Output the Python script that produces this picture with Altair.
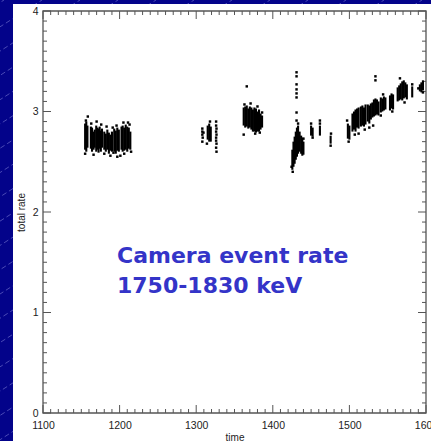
import altair as alt
import pandas as pd

# ---- observation streaks: time, lowest and highest total rate in each pass ----
strip_time = [
    1155, 1156.5, 1158, 1162.5, 1164, 1166, 1167.5, 1169.5, 1171, 1172.5, 1174, 1175.5, 1177,
    1180, 1182, 1184, 1186, 1188, 1190, 1193, 1195, 1197, 1199,
    1202.5, 1204, 1206, 1208, 1210, 1212, 1214,
    1315, 1317, 1319,
    1362, 1364, 1366, 1368, 1370, 1372, 1374, 1376, 1378, 1380, 1382, 1384, 1386,
    1425.5, 1427, 1428.5, 1430, 1431.5, 1433, 1435, 1437, 1438.5, 1440,
    1450, 1452, 1461.5, 1475.5,
    1498, 1500, 1504, 1506, 1508, 1510, 1512, 1515, 1517, 1519, 1521,
    1524, 1526, 1528, 1530, 1532, 1534, 1536, 1538, 1541, 1543, 1545, 1547,
    1553, 1555, 1557, 1563, 1565, 1567, 1569, 1571, 1573, 1575, 1582, 1592, 1594, 1596,
]
strip_lo = [
    2.62, 2.60, 2.64, 2.63, 2.60, 2.62, 2.64, 2.60, 2.62, 2.59, 2.63, 2.60, 2.64,
    2.62, 2.60, 2.62, 2.58, 2.61, 2.60, 2.60, 2.58, 2.61, 2.60,
    2.62, 2.60, 2.61, 2.62, 2.60, 2.63, 2.62,
    2.72, 2.70, 2.70,
    2.86, 2.84, 2.85, 2.83, 2.84, 2.82, 2.80, 2.80, 2.79, 2.80, 2.80, 2.82, 2.84,
    2.42, 2.45, 2.48, 2.52, 2.55, 2.58, 2.60, 2.58, 2.56, 2.57,
    2.76, 2.75, 2.76, 2.68,
    2.73, 2.72, 2.80, 2.82, 2.80, 2.84, 2.83, 2.85, 2.86, 2.85, 2.87,
    2.90, 2.88, 2.92, 2.94, 2.95, 2.96, 2.97, 2.96, 2.99, 3.00, 3.01, 3.02,
    3.01, 3.03, 3.02, 3.10, 3.11, 3.12, 3.11, 3.13, 3.14, 3.12, 3.14, 3.20, 3.19, 3.21,
]
strip_hi = [
    2.88, 2.90, 2.86, 2.85, 2.84, 2.80, 2.82, 2.86, 2.84, 2.83, 2.85, 2.81, 2.83,
    2.80, 2.78, 2.82, 2.79, 2.77, 2.80, 2.83, 2.81, 2.84, 2.82,
    2.85, 2.86, 2.84, 2.87, 2.85, 2.84, 2.80,
    2.86, 2.88, 2.85,
    3.04, 3.05, 3.06, 3.03, 3.05, 3.04, 3.02, 3.04, 3.03, 3.00, 3.02, 2.98, 2.96,
    2.62, 2.70, 2.75, 2.80, 2.84, 2.86, 2.80, 2.76, 2.74, 2.70,
    2.86, 2.84, 2.86, 2.76,
    2.88, 2.86, 2.98, 3.00, 3.02, 3.03, 3.04, 3.05, 3.06, 3.04, 3.07,
    3.07, 3.06, 3.08, 3.09, 3.12, 3.13, 3.12, 3.10, 3.14, 3.13, 3.15, 3.14,
    3.16, 3.18, 3.17, 3.24, 3.26, 3.28, 3.30, 3.31, 3.29, 3.27, 3.25, 3.27, 3.29, 3.31,
]

# ---- isolated samples ----
pt_time = [
    1158.5, 1156, 1163, 1170, 1176, 1183, 1191, 1196, 1205, 1211, 1213,
    1155, 1166, 1180, 1188, 1192, 1197, 1201, 1206, 1215,
    1308, 1308, 1308, 1308.5, 1308, 1309.5, 1314, 1318,
    1326, 1326, 1326.5, 1326, 1326.5, 1326, 1326, 1326.5, 1326, 1326.5,
    1366, 1362, 1363, 1371, 1380, 1377, 1383, 1386,
    1426, 1431, 1431, 1431, 1431, 1431, 1431, 1431, 1431, 1433, 1424.5, 1440,
    1450, 1461.5, 1461.5, 1452, 1475.5, 1476,
    1534, 1534, 1520, 1526, 1531, 1507, 1566, 1590, 1544, 1497, 1499,
    1512, 1541, 1556, 1582, 1572, 1596,
]
pt_rate = [
    2.95, 2.91, 2.88, 2.90, 2.87, 2.85, 2.84, 2.86, 2.89, 2.89, 2.87,
    2.58, 2.57, 2.58, 2.56, 2.59, 2.55, 2.56, 2.58, 2.60,
    2.83, 2.80, 2.77, 2.74, 2.70, 2.79, 2.68, 2.90,
    2.90, 2.86, 2.83, 2.80, 2.77, 2.74, 2.71, 2.68, 2.64, 2.60,
    3.25, 2.77, 3.07, 3.08, 3.05, 2.78, 2.79, 2.99,
    2.40, 3.39, 3.35, 3.27, 3.22, 3.18, 3.14, 2.99, 2.91, 2.88, 2.45, 2.73,
    2.88, 2.91, 2.88, 2.74, 2.66, 2.78,
    3.35, 3.31, 2.82, 2.84, 2.86, 2.77, 3.33, 3.23, 3.17, 2.91, 2.70,
    2.78, 2.96, 3.00, 3.27, 3.09, 3.19,
]

x_major = [1100, 1200, 1300, 1400, 1500, 1600]
y_major = [0, 1, 2, 3, 4]
x_minor = [v for v in range(1100, 1601, 10) if v % 100]
y_minor = [i / 10 for i in range(41) if i % 10]

caption = ["Camera event rate", "1750-1830 keV"]

W, H = 383, 402
INK = "#555555"
LABEL_FONT = "Liberation Sans"

x_scale = alt.Scale(domain=[1100, 1600], nice=False, zero=False)
y_scale = alt.Scale(domain=[0, 4], nice=False, zero=False)

x_axis = alt.Axis(
    values=x_major, format="d", ticks=False, domain=False, grid=False,
    labelFlush=False, labelOverlap=False, labelBound=False,
    labelFont=LABEL_FONT, labelFontSize=10.5, labelColor="#222222", labelPadding=7,
    title="time", titleFont=LABEL_FONT, titleFontSize=10, titleFontWeight="normal",
    titleColor="#222222", titleX=W / 2, titleY=27, titleBaseline="alphabetic",
    zindex=1,
)
y_axis = alt.Axis(
    values=y_major, format="d", ticks=False, domain=False, grid=False,
    labelOverlap=False, labelFont=LABEL_FONT, labelFontSize=10.5,
    labelColor="#222222", labelPadding=5,
    title="total rate", titleFont=LABEL_FONT, titleFontSize=10,
    titleFontWeight="normal", titleColor="#222222",
    titleX=-22, titleY=H / 2, titleAlign="center", titleBaseline="middle",
    zindex=1,
)


def xq(field):
    return alt.X(field, type="quantitative", scale=x_scale, axis=x_axis)


def yq(field):
    return alt.Y(field, type="quantitative", scale=y_scale, axis=y_axis)


one_row = alt.Data(values=[{}])

# faint diagonal streaks of the slide background, expressed in axis units
px_per_t = W / 500.0
px_per_r = H / 4.0
streaks = []
for a in range(-800, 460, 38):
    x0p, y0p = a - 43, 430
    x1p, y1p = a + 690 - 43, -11
    streaks.append({
        "t0": 1100 + x0p / px_per_t, "r0": (H - y0p) / px_per_r,
        "t1": 1100 + x1p / px_per_t, "r1": (H - y1p) / px_per_r,
    })
decor = alt.Chart(pd.DataFrame(streaks)).mark_rule(
    color="#9a9ae6", strokeWidth=0.8, opacity=0.6, strokeDash=[5, 3]
).encode(x=xq("t0"), y=yq("r0"), x2="t1", y2="r1")

panel = alt.Chart(one_row).mark_rect(color="white").encode(
    x=alt.value(-30), x2=alt.value(W + 5), y=alt.value(-7), y2=alt.value(H + 28)
)


def tick_layers(values, length):
    df = pd.DataFrame({"v": values})
    base = alt.Chart(df).mark_rule(color=INK, strokeWidth=1)
    return [
        base.encode(x=xq("v"), y=alt.value(H), y2=alt.value(H - length)),
        base.encode(x=xq("v"), y=alt.value(0), y2=alt.value(length)),
    ]


def ytick_layers(values, length):
    df = pd.DataFrame({"v": values})
    base = alt.Chart(df).mark_rule(color=INK, strokeWidth=1)
    return [
        base.encode(y=yq("v"), x=alt.value(0), x2=alt.value(length)),
        base.encode(y=yq("v"), x=alt.value(W), x2=alt.value(W - length)),
    ]


ticks = (
    tick_layers(x_major, 8) + tick_layers(x_minor, 4)
    + ytick_layers(y_major, 8) + ytick_layers(y_minor, 4)
)

strips = alt.Chart(pd.DataFrame({
    "time": strip_time, "lo": strip_lo, "hi": strip_hi,
})).mark_rule(color="black", strokeWidth=2.1).encode(
    x=xq("time"), y=yq("lo"), y2="hi"
)

points = alt.Chart(pd.DataFrame({"time": pt_time, "rate": pt_rate})).mark_square(
    color="black", size=6, opacity=1, filled=True
).encode(x=xq("time"), y=yq("rate"))

label = alt.Chart(one_row).mark_text(
    align="left", baseline="alphabetic", font="DejaVu Sans", fontWeight="bold",
    fontSize=22, color="#3434c8", lineHeight=30,
).encode(x=alt.value(74), y=alt.value(252), text=alt.value(caption))

frame = alt.Chart(one_row).mark_rect(
    fillOpacity=0, stroke=INK, strokeWidth=1.3
).encode(x=alt.value(0), x2=alt.value(W), y=alt.value(0), y2=alt.value(H))

chart = alt.layer(
    decor, panel, *ticks, strips, points, label, frame
).properties(
    width=W, height=H,
    autosize=alt.AutoSizeParams(type="none"),
    padding={"left": 43, "top": 11, "right": 5, "bottom": 28},
    background="#03038a",
).configure_view(stroke=None)

chart.save("out.html", embed_options={"renderer": "svg", "actions": False})
